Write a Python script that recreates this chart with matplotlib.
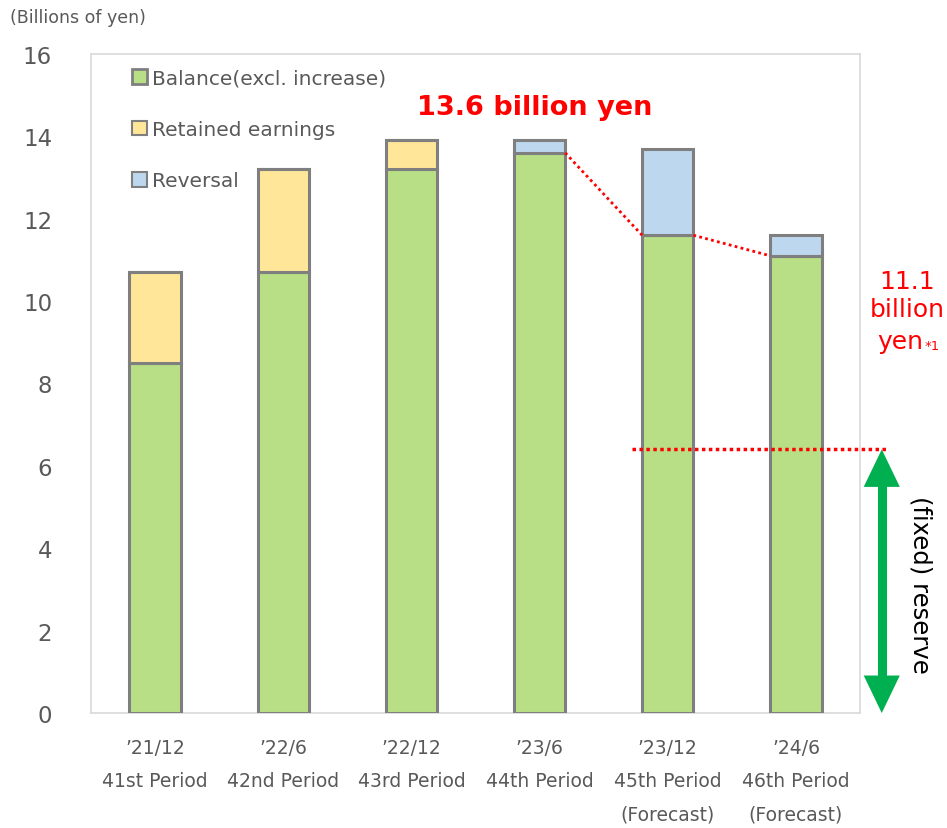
import matplotlib
matplotlib.use("Agg")
import matplotlib.pyplot as plt
from matplotlib.patches import Patch

# Reserve balance by fiscal period (billions of yen)
dates = ["\u201921/12", "\u201922/6", "\u201922/12", "\u201923/6", "\u201923/12", "\u201924/6"]
periods = ["41st Period", "42nd Period", "43rd Period", "44th Period", "45th Period", "46th Period"]
notes = ["", "", "", "", "(Forecast)", "(Forecast)"]

balance = [8.5, 10.7, 13.2, 13.6, 11.6, 11.1]
retained = [2.2, 2.5, 0.7, 0.0, 0.0, 0.0]
reversal = [0.0, 0.0, 0.0, 0.3, 2.1, 0.5]
fixed_reserve = 6.4

GREEN = "#b8df86"
YELLOW = "#ffe699"
BLUE = "#bdd7ee"
EDGE = "#7f7f7f"
RED = "#ff0000"
TXT = "#595959"
ARROW = "#00b050"

plt.rcParams["font.family"] = ["DejaVu Sans"]

fig = plt.figure(figsize=(9.47, 8.29), dpi=100)
ax = fig.add_axes([0.0961, 0.1387, 0.812, 0.795])

x = list(range(len(dates)))
w = 0.4
top1 = [b + r for b, r in zip(balance, retained)]

ax.bar(x, balance, w, color=GREEN, edgecolor=EDGE, linewidth=2.2, zorder=3)
ax.bar(x, retained, w, bottom=balance, color=YELLOW, edgecolor=EDGE, linewidth=2.2, zorder=3)
ax.bar(x, reversal, w, bottom=top1, color=BLUE, edgecolor=EDGE, linewidth=2.2, zorder=3)

ax.set_xlim(-0.5, len(dates) - 0.5)
ax.set_ylim(0, 16)
ax.set_yticks(range(0, 17, 2))
ax.tick_params(axis="y", length=0, pad=28, labelsize=16.5, labelcolor=TXT)
ax.set_xticks(x)
ax.set_xticklabels([f"{d}\n{p}\n{n}" for d, p, n in zip(dates, periods, notes)],
                   linespacing=1.95)
ax.tick_params(axis="x", length=0, pad=18, labelsize=13.5, labelcolor=TXT)
for s in ax.spines.values():
    s.set_color("#d9d9d9")
    s.set_linewidth(1.2)

fig.text(0.011, 0.978, "(Billions of yen)", fontsize=12.5, color=TXT, va="center")

# legend
handles = [Patch(facecolor=GREEN, edgecolor=EDGE, linewidth=2),
           Patch(facecolor=YELLOW, edgecolor=EDGE, linewidth=1.5),
           Patch(facecolor=BLUE, edgecolor=EDGE, linewidth=1.5)]
ax.legend(handles, ["Balance(excl. increase)", "Retained earnings", "Reversal"],
          loc="upper left", bbox_to_anchor=(0.03, 1.005), frameon=False,
          fontsize=14.5, labelcolor=TXT, handlelength=0.75, handleheight=0.75,
          handletextpad=0.25, labelspacing=1.6)

# decline of the balance after the 44th period
ax.plot([3 + w / 2, 4 - w / 2], [balance[3], balance[4]], color=RED, ls=(0, (1, 1.2)), lw=2, zorder=4)
ax.plot([4 + w / 2, 5 - w / 2], [balance[4], balance[5]], color=RED, ls=(0, (1, 1.2)), lw=2, zorder=4)
ax.text(2.96, 14.71, f"{balance[3]} billion yen", color=RED, fontsize=19.5, fontweight="bold",
        ha="center", va="center")
ax.text(5.87, 10.5, f"{balance[5]}", color=RED, fontsize=18, ha="center", va="center", clip_on=False)
ax.text(5.87, 9.8, "billion", color=RED, fontsize=18, ha="center", va="center", clip_on=False)
ax.text(5.99, 9.02, "yen", color=RED, fontsize=18, ha="right", va="center", clip_on=False)
ax.text(6.0, 8.92, "*1", color=RED, fontsize=9.5, ha="left", va="center", clip_on=False)

# fixed reserve level with a double-headed arrow down to zero
ax.plot([3.72, 5.73], [fixed_reserve, fixed_reserve], color=RED, ls=(0, (1, 1)), lw=2.5,
        clip_on=False, zorder=4)
ax_x = 5.67
ax.plot([ax_x, ax_x], [0.4, fixed_reserve - 0.4], color=ARROW, lw=6.5,
        solid_capstyle="butt", clip_on=False, zorder=4)
head = dict(arrowstyle="simple,head_length=1.35,head_width=1.3,tail_width=0.05",
            color=ARROW, lw=0, mutation_scale=20, shrinkA=0, shrinkB=0)
ax.annotate("", xy=(ax_x, 0), xytext=(ax_x, 1.2), annotation_clip=False, arrowprops=head)
ax.annotate("", xy=(ax_x, fixed_reserve), xytext=(ax_x, fixed_reserve - 1.2),
            annotation_clip=False, arrowprops=head)
ax.text(5.97, 3.13, "(fixed) reserve", rotation=-90, fontsize=17.5, color="black",
        ha="center", va="center", clip_on=False)

fig.savefig("out.png", dpi=100)
